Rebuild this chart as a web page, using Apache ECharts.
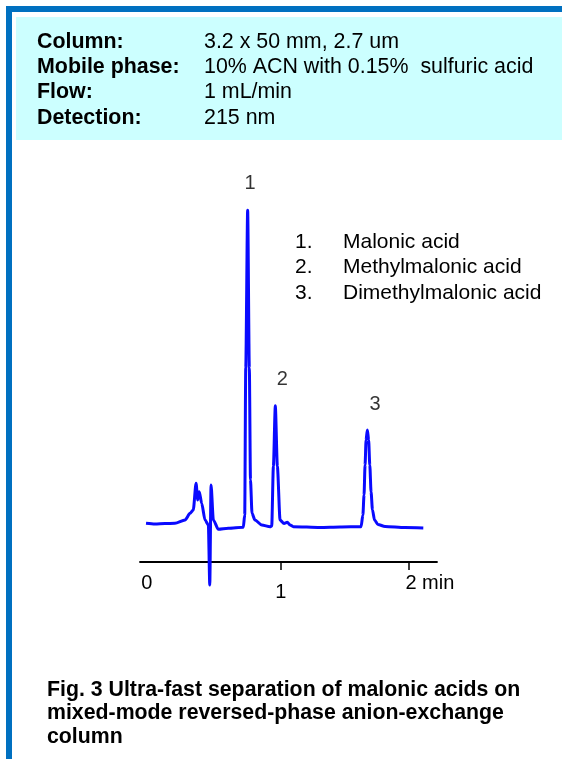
<!DOCTYPE html>
<html>
<head>
<meta charset="utf-8">
<script src="https://cdn.jsdelivr.net/npm/echarts@6/dist/echarts.min.js"></script>
<style>
html,body{margin:0;padding:0;background:#fff;}
#chart{width:562px;height:759px;}
</style>
</head>
<body>
<div id="chart"></div>
<script>
// Header conditions
var headerLabels = ['Column:', 'Mobile phase:', 'Flow:', 'Detection:'];
var headerValues = ['3.2 x 50 mm, 2.7 um', '10% ACN with 0.15%  sulfuric acid', '1 mL/min', '215 nm'];

// Peak legend
var legendNums = ['1.', '2.', '3.'];
var legendNames = ['Malonic acid', 'Methylmalonic acid', 'Dimethylmalonic acid'];

// Caption lines
var captionLines = [
  'Fig. 3 Ultra-fast separation of malonic acids on',
  'mixed-mode reversed-phase anion-exchange',
  'column'
];

// Axis tick values and labels (time, min)
var tickValues = [1, 2];
var labelValues = [0, 1, 2];
var tickLabels = ['0', '1', '2 min'];

// Chromatogram trace: time (min) and signal (arbitrary units)
var traceTime = [
  -0.053, 0.017, 0.095, 0.173, 0.252, 0.291, 0.316, 0.338, 0.351, 0.363,
  0.382, 0.408, 0.434, 0.445, 0.455, 0.473, 0.512, 0.590, 0.707, 0.718,
  0.726, 0.741, 0.754, 0.763, 0.775, 0.798, 0.851, 0.916, 0.929, 0.942,
  0.957, 0.973, 0.994, 1.025, 1.051, 1.072, 1.098, 1.306, 1.463, 1.627,
  1.641, 1.650, 1.658, 1.666, 1.676, 1.686, 1.695, 1.705, 1.716, 1.732,
  1.759, 1.814, 1.970, 2.113
];
var traceSignal = [
  0.46, 0.27, 0.40, 0.46, 1.35, 3.16, 4.05, 11.3, 6.76, 9.0,
  5.86, 1.35, 0.0, -16.2, 10.8, 1.35, -1.16, -0.89, -0.62, 2.7,
  42.4, 85.1, 42.4, 12.2, 3.16, 1.35, 0.0, -0.46, -0.27, 15.9,
  32.2, 15.9, 1.35, 0.40, 0.73, 0.0, -0.46, -0.68, -0.54, -0.46,
  2.7, 8.1, 16.2, 23.0, 25.7, 23.0, 16.2, 8.9, 4.05, 1.35,
  0.14, -0.40, -0.68, -0.81
];

// Peak number labels (time, signal position)
var peakNames = ['1', '2', '3'];
var peakLabelTime = [0.759, 1.011, 1.736];
var peakLabelSignal = [92.4, 39.2, 32.7];

var FONT = '"Liberation Sans", Arial, Helvetica, sans-serif';

var traceData = traceTime.map(function (t, i) { return [t, traceSignal[i]]; });
var peakData = peakNames.map(function (n, i) {
  return { name: n, value: [peakLabelTime[i], peakLabelSignal[i]] };
});

var graphics = [
  { type: 'rect', shape: { x: 6, y: 6, width: 556, height: 6 }, style: { fill: '#0070C0' }, z: 0 },
  { type: 'rect', shape: { x: 6, y: 6, width: 6, height: 753 }, style: { fill: '#0070C0' }, z: 0 },
  { type: 'rect', shape: { x: 16, y: 17, width: 546, height: 123 }, style: { fill: '#CCFFFF' }, z: 0 }
];
var headerY = [42.5, 67.5, 92.5, 118];
headerLabels.forEach(function (s, i) {
  graphics.push({ type: 'text', z: 1, style: { text: s, x: 37, y: headerY[i], fill: '#000',
    font: 'bold 21.4px ' + FONT, textAlign: 'left', textVerticalAlign: 'middle' } });
  graphics.push({ type: 'text', z: 1, style: { text: headerValues[i], x: 204, y: headerY[i], fill: '#000',
    font: '21.4px ' + FONT, textAlign: 'left', textVerticalAlign: 'middle' } });
});
var legendY = [242, 267.5, 293];
legendNums.forEach(function (s, i) {
  graphics.push({ type: 'text', z: 1, style: { text: s, x: 295, y: legendY[i], fill: '#000',
    font: '21px ' + FONT, textAlign: 'left', textVerticalAlign: 'middle' } });
  graphics.push({ type: 'text', z: 1, style: { text: legendNames[i], x: 343, y: legendY[i], fill: '#000',
    font: '21px ' + FONT, textAlign: 'left', textVerticalAlign: 'middle' } });
});
var captionY = [690, 713.5, 737];
captionLines.forEach(function (s, i) {
  graphics.push({ type: 'text', z: 1, style: { text: s, x: 47, y: captionY[i], fill: '#000',
    font: 'bold 21.3px ' + FONT, textAlign: 'left', textVerticalAlign: 'middle' } });
});

var chart = echarts.init(document.getElementById('chart'), null, { renderer: 'canvas' });
chart.setOption({
  animation: false,
  backgroundColor: '#fff',
  graphic: { elements: graphics },
  grid: { left: 140, right: 125, top: 155, bottom: 197, containLabel: false },
  xAxis: {
    type: 'value', min: -0.1, max: 2.22,
    axisLine: { show: true, onZero: false, lineStyle: { color: '#000', width: 1.8 } },
    axisTick: { show: true, customValues: tickValues, length: 8, lineStyle: { color: '#000', width: 1.5 } },
    axisLabel: {
      show: true, customValues: labelValues, margin: 11,
      fontFamily: FONT, fontSize: 20, color: '#000',
      formatter: function (v) {
        var i = labelValues.indexOf(v);
        var key = ['a', 'b', 'c'][i];
        return '{' + key + '|' + tickLabels[i] + '}';
      },
      rich: {
        a: { fontFamily: FONT, fontSize: 20, color: '#000', padding: [0, 12, 0, 0] },
        b: { fontFamily: FONT, fontSize: 20, color: '#000', padding: [9, 0, 0, 0] },
        c: { fontFamily: FONT, fontSize: 20, color: '#000', padding: [0, 0, 0, 42] }
      }
    },
    splitLine: { show: false }
  },
  yAxis: { type: 'value', min: -10, max: 100, show: false, splitLine: { show: false } },
  series: [
    {
      type: 'line', data: traceData, showSymbol: false, clip: false,
      smooth: 0.25, smoothMonotone: 'x',
      lineStyle: { color: '#0a0aff', width: 3 }, z: 5
    },
    {
      type: 'scatter', data: peakData, symbolSize: 0, silent: true, clip: false,
      label: { show: true, position: 'inside', formatter: '{b}', fontFamily: FONT, fontSize: 20, color: '#000' }
    }
  ]
});
</script>
</body>
</html>
